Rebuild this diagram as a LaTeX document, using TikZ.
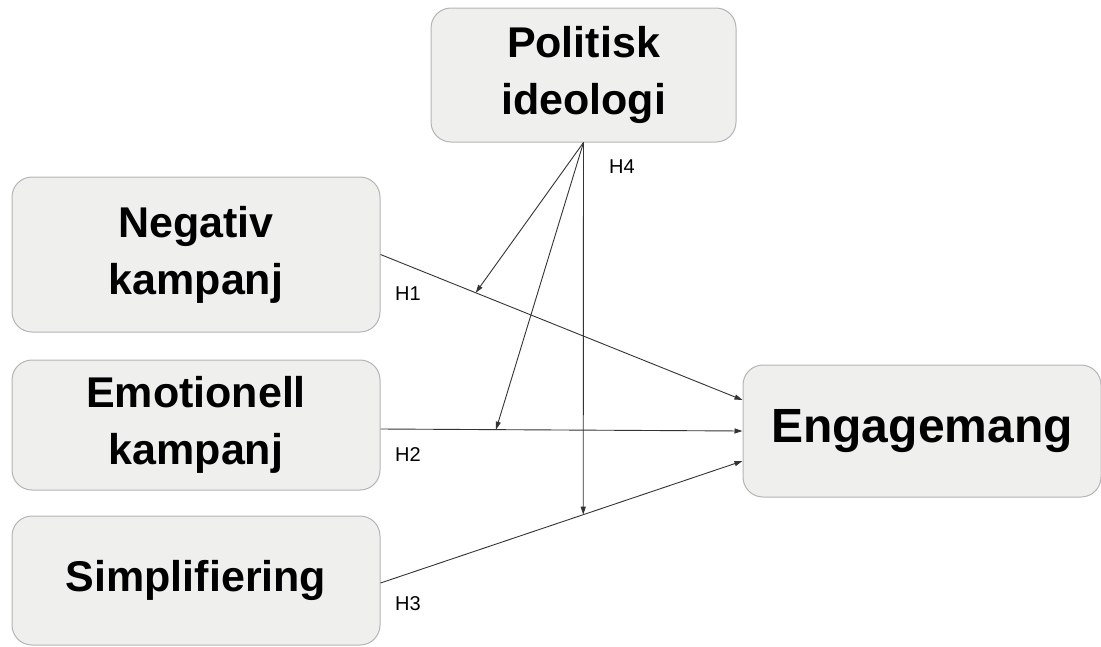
\documentclass[tikz,border=0pt]{standalone}
\usepackage{fontspec}
\setmainfont{Liberation Sans}
\usepackage{tikz}
\usetikzlibrary{arrows.meta}
\definecolor{boxfill}{HTML}{EFF0ED}
\definecolor{boxline}{HTML}{B4B4B4}
\definecolor{pathline}{HTML}{333333}
\tikzset{
  varbox/.style={draw=boxline, fill=boxfill, line width=1pt, rounded corners=20pt,
    inner sep=0pt, align=center, font=\fontsize{43}{57}\selectfont\bfseries},
  effect/.style={-{Triangle[length=8pt,width=5pt]}, draw=pathline, line width=0.9pt},
  hlabel/.style={font=\fontsize{20}{22}\selectfont, inner sep=0pt}
}

\begin{document}
\begin{tikzpicture}[x=1pt, y=1pt]

      % page frame
      \useasboundingbox (0,0) rectangle (1101,-646);

      % variables
      \node[varbox, minimum width=305pt, minimum height=134pt] (ideo) at (583.5,-75) {Politisk\\ideologi};
      \node[varbox, minimum width=368pt, minimum height=155pt] (neg) at (196,-254.5) {Negativ\\kampanj};
      \node[varbox, minimum width=368pt, minimum height=130pt] (emo) at (196,-425) {Emotionell\\kampanj};
      \node[varbox, minimum width=368pt, minimum height=129pt] (simp) at (196,-580.5) {Simplifiering};
      \node[varbox, minimum width=358pt, minimum height=132pt,
            font=\fontsize{48}{54}\selectfont\bfseries] (eng) at (922,-431) {Engagemang};

      % direct effects
      \draw[effect] (neg.east) -- coordinate[pos=0.263] (m1) ([yshift=31pt]eng.west);
      \draw[effect] ([yshift=-4pt]emo.east) -- coordinate[pos=0.319] (m2) (eng.west);
      \draw[effect] ([yshift=-2.5pt]simp.east) -- coordinate[pos=0.56] (m3) ([yshift=-30pt]eng.west);

      % moderation
      \draw[effect] (ideo.south) -- (m1);
      \draw[effect] (ideo.south) -- (m2);
      \draw[effect] (ideo.south) -- (m3);

      % hypotheses
      \node[hlabel] (h1) at (408,-294) {H1};
      \node[hlabel] (h2) at (408,-455) {H2};
      \node[hlabel] (h3) at (408,-604) {H3};
      \node[hlabel] (h4) at (622,-167) {H4};

\end{tikzpicture}
\end{document}
